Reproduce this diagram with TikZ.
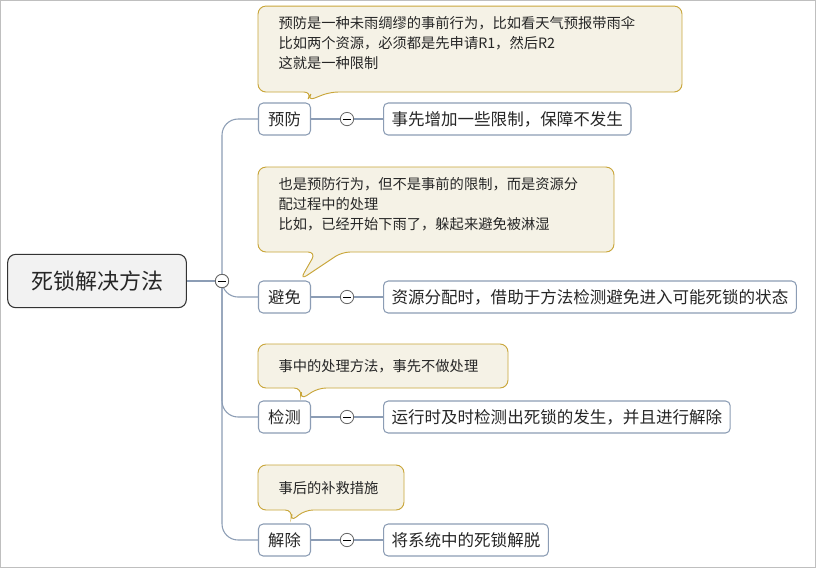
\documentclass[tikz,border=0pt]{standalone}
\usepackage{fontspec}
\setmainfont{Noto Sans CJK SC}
\usetikzlibrary{positioning}
\definecolor{boxline}{HTML}{8C9DB5}
\definecolor{notefill}{HTML}{F5F2E6}
\definecolor{noteline}{HTML}{C9A63A}
\definecolor{rootfill}{HTML}{F2F2F2}
\begin{document}
\begin{tikzpicture}[x=0.75pt,y=-0.75pt,line width=0.8pt]
	\tikzstyle{every node}=[inner sep=0pt,text=black!85]
	\tikzstyle{root}=[draw=black!80,fill=rootfill,rounded corners=6pt,minimum width=134pt,minimum height=40pt,font=\fontsize{16.5}{19}\selectfont]
	\tikzstyle{topic}=[draw=boxline,rounded corners=3.5pt,minimum width=39pt,minimum height=24pt,font=\fontsize{12.2}{14}\selectfont]
	\tikzstyle{leaf}=[draw=boxline,rounded corners=3.5pt,minimum height=24pt,inner xsep=6pt,font=\fontsize{12.4}{14}\selectfont,anchor=west]
	\tikzstyle{fold}=[circle,draw=black!60,fill=white,line width=0.6pt,minimum size=10pt]
	\tikzstyle{link}=[draw=boxline]
	\tikzstyle{note}=[draw=noteline,fill=notefill,line width=0.7pt,rounded corners=6pt]
	\fill[white] (0,0) rectangle (816,568);
	\draw[black!25] (0.5,0.5) rectangle (815.5,567.5);
	\useasboundingbox (0,0) rectangle (816,568);
	% root and branches
	\node[root] (rt) at (97,281) {死锁解决方法};
	\node[fold] (f0) at (222,281) {};
	\node[topic] (yf) at (284.5,119) {预防};
	\node[topic] (bm) at (284.5,297) {避免};
	\node[topic] (jc) at (284.5,417) {检测};
	\node[topic] (jch) at (284.5,540) {解除};
	\draw[link,rounded corners=12pt] (f0.north) |- (yf.west);
	\draw[link,rounded corners=12pt] (f0.south) |- (bm.west);
	\draw[link,rounded corners=12pt] (f0.south) |- (jc.west);
	\draw[link,rounded corners=12pt] (f0.south) |- (jch.west);
	\draw[link] (rt.east) -- (f0.west);
	\node[fold] (f0) at (222,281) {};
	\draw[line width=0.6pt] (218,281) -- (226,281);
	% leaves
	\node[leaf] (yfL) at (383,119) {事先增加一些限制，保障不发生};
	\node[leaf] (bmL) at (383,297) {资源分配时，借助于方法检测避免进入可能死锁的状态};
	\node[leaf] (jcL) at (383,417) {运行时及时检测出死锁的发生，并且进行解除};
	\node[leaf] (jchL) at (383,540) {将系统中的死锁解脱};
	\foreach \t/\l/\y in {yf/yfL/119,bm/bmL/297,jc/jcL/417,jch/jchL/540}{
		\node[fold] (f\t) at (347,\y) {};
		\draw[link] (\t.east) -- (f\t.west);
		\draw[link] (f\t.east) -- (\l.west);
		\draw[line width=0.6pt] (343,\y) -- (351,\y);
	}
	% notes
	\draw[note] (258,6) -- (682,6) -- (682,92) -- (330,92) -- (307,101) -- (312,92) -- (258,92) -- cycle;
	\node[anchor=north west,align=left,font=\fontsize{10.7}{15}\selectfont] (n1) at (278,16) {预防是一种未雨绸缪的事前行为，比如看天气预报带雨伞\\比如两个资源，必须都是先申请R1，然后R2\\这就是一种限制};
	\draw[note] (258,167) -- (614,167) -- (614,252) -- (342,252) -- (300,280) -- (316,252) -- (258,252) -- cycle;
	\node[anchor=north west,align=left,font=\fontsize{10.7}{15}\selectfont] (n2) at (278,177) {也是预防行为，但不是事前的限制，而是资源分\\配过程中的处理\\比如，已经开始下雨了，躲起来避免被淋湿};
	\draw[note] (258,344) -- (508,344) -- (508,388) -- (318,388) -- (300,400) -- (302,388) -- (258,388) -- cycle;
	\node[anchor=west,font=\fontsize{10.7}{15}\selectfont] (n3) at (278,366) {事中的处理方法，事先不做处理};
	\draw[note] (258,465) -- (404,465) -- (404,510) -- (305,510) -- (290,522) -- (293,510) -- (258,510) -- cycle;
	\node[anchor=west,font=\fontsize{10.7}{15}\selectfont] (n4) at (278,488) {事后的补救措施};
\end{tikzpicture}
\end{document}
